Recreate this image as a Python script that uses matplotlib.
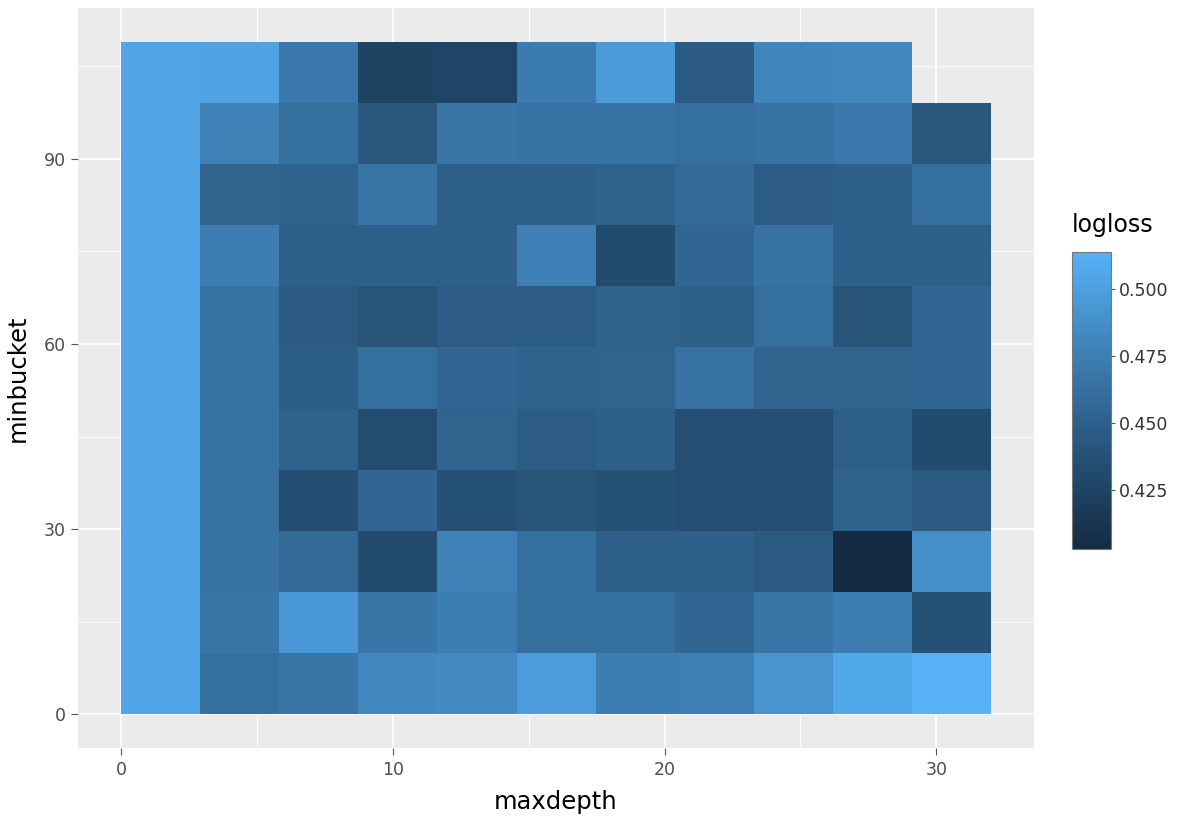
import numpy as np
import matplotlib.pyplot as plt
from matplotlib.colors import ListedColormap, Normalize, to_rgb

plt.rcParams['font.family'] = ['DejaVu Sans']

# bin edges of the 2d summary (maxdepth on x, minbucket on y)
maxdepth_edges = np.linspace(0, 32, 12)
minbucket_edges = np.linspace(0, 109, 12)

# mean logloss per bin, rows listed from the top (largest minbucket) down
logloss_rows = [
    [0.505, 0.503, 0.470, 0.425, 0.426, 0.472, 0.497, 0.445, 0.480, 0.482, np.nan],
    [0.505, 0.478, 0.462, 0.443, 0.468, 0.466, 0.466, 0.462, 0.465, 0.470, 0.443],
    [0.505, 0.453, 0.452, 0.467, 0.450, 0.450, 0.452, 0.458, 0.447, 0.450, 0.462],
    [0.505, 0.474, 0.449, 0.450, 0.450, 0.476, 0.432, 0.455, 0.466, 0.450, 0.449],
    [0.505, 0.466, 0.445, 0.440, 0.447, 0.447, 0.452, 0.450, 0.462, 0.440, 0.455],
    [0.505, 0.466, 0.448, 0.462, 0.455, 0.452, 0.453, 0.465, 0.453, 0.453, 0.455],
    [0.505, 0.465, 0.452, 0.433, 0.453, 0.447, 0.450, 0.435, 0.435, 0.449, 0.432],
    [0.505, 0.465, 0.434, 0.455, 0.437, 0.440, 0.437, 0.435, 0.435, 0.452, 0.445],
    [0.505, 0.465, 0.458, 0.432, 0.478, 0.462, 0.449, 0.450, 0.444, 0.403, 0.488],
    [0.505, 0.468, 0.494, 0.468, 0.474, 0.462, 0.462, 0.455, 0.468, 0.474, 0.437],
    [0.505, 0.462, 0.468, 0.482, 0.484, 0.498, 0.474, 0.475, 0.492, 0.507, 0.514],
]

colorbar_ticks = [0.425, 0.450, 0.475, 0.500]
x_ticks = [0, 10, 20, 30]
y_ticks = [0, 30, 60, 90]

logloss = np.ma.masked_invalid(np.flipud(np.array(logloss_rows)))


# gradient interpolated in CIELAB, like scales::seq_gradient_pal
WHITE = np.array([0.95047, 1.0, 1.08883])
M = np.array([[0.4124, 0.3576, 0.1805],
              [0.2126, 0.7152, 0.0722],
              [0.0193, 0.1192, 0.9505]])


def to_lab(hexcol):
    c = np.array(to_rgb(hexcol))
    lin = np.where(c <= 0.04045, c / 12.92, ((c + 0.055) / 1.055) ** 2.4)
    xyz = M @ lin / WHITE
    f = np.where(xyz > 0.008856, np.cbrt(xyz), 7.787 * xyz + 16 / 116)
    return np.array([116 * f[1] - 16, 500 * (f[0] - f[1]), 200 * (f[1] - f[2])])


def from_lab(lab):
    fy = (lab[:, 0] + 16) / 116
    f = np.stack([fy + lab[:, 1] / 500, fy, fy - lab[:, 2] / 200], axis=1)
    xyz = np.where(f ** 3 > 0.008856, f ** 3, (f - 16 / 116) / 7.787) * WHITE
    lin = xyz @ np.linalg.inv(M).T
    lin = np.clip(lin, 0, 1)
    c = np.where(lin <= 0.0031308, 12.92 * lin, 1.055 * lin ** (1 / 2.4) - 0.055)
    return np.clip(c, 0, 1)


t = np.linspace(0, 1, 256)[:, None]
lab_ramp = (1 - t) * to_lab('#132B43') + t * to_lab('#56B1F7')
cmap = ListedColormap(from_lab(lab_ramp))
norm = Normalize(vmin=logloss.min(), vmax=logloss.max())

fig = plt.figure(figsize=(11.84, 8.27), dpi=100)
ax = fig.add_axes([0.0659, 0.0955, 0.8074, 0.8948])
ax.set_facecolor('#EBEBEB')

mesh = ax.pcolormesh(maxdepth_edges, minbucket_edges, logloss, cmap=cmap, norm=norm,
                     shading='flat', zorder=2)

# 5% expansion on both scales
xr = maxdepth_edges[-1] - maxdepth_edges[0]
yr = minbucket_edges[-1] - minbucket_edges[0]
ax.set_xlim(maxdepth_edges[0] - 0.05 * xr, maxdepth_edges[-1] + 0.05 * xr)
ax.set_ylim(minbucket_edges[0] - 0.05 * yr, minbucket_edges[-1] + 0.05 * yr)

ax.set_xticks(x_ticks)
ax.set_yticks(y_ticks)
ax.set_xticks([5, 15, 25], minor=True)
ax.set_yticks([15, 45, 75, 105], minor=True)
ax.grid(True, which='major', color='white', linewidth=1.2, zorder=1)
ax.grid(True, which='minor', color='white', linewidth=0.6, zorder=1)
ax.set_axisbelow(True)

for side in ax.spines.values():
    side.set_visible(False)
ax.tick_params(which='major', length=5, width=0.8, color='#555555', labelcolor='#4D4D4D',
               labelsize=12.5, pad=4)
ax.tick_params(which='minor', length=0)

ax.set_xlabel('maxdepth', fontsize=17.5, labelpad=8)
ax.set_ylabel('minbucket', fontsize=17.5, labelpad=10)

# colour bar legend
cax = fig.add_axes([0.9054, 0.3362, 0.0329, 0.3591])
cb = fig.colorbar(mesh, cax=cax, ticks=colorbar_ticks, format='%.3f')
cb.outline.set_edgecolor('#777777')
cb.outline.set_linewidth(0.8)
cax.tick_params(length=3, width=0.8, color='#555555', labelcolor='#333333', labelsize=12.5, pad=3)
fig.text(0.9054, 0.728, 'logloss', fontsize=17, ha='left', va='center')

fig.savefig('out.png', dpi=100)
